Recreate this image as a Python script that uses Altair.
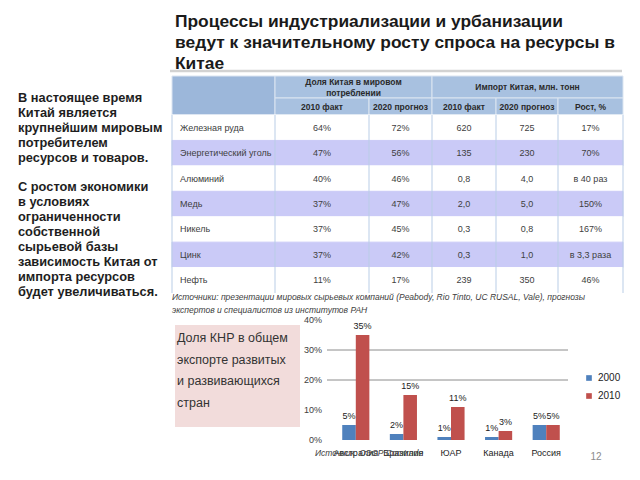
import altair as alt
import numpy as np
import pandas as pd

FONT = "Liberation Sans"

# ---------------- texts ----------------
title_lines = [
    "Процессы индустриализации и урбанизации",
    "ведут к значительному росту спроса на ресурсы в",
    "Китае",
]
left_par_1 = ["В настоящее время", "Китай является", "крупнейшим мировым",
              "потребителем", "ресурсов и товаров."]
left_par_2 = ["С ростом экономики", "в условиях", "ограниченности", "собственной",
              "сырьевой базы", "зависимость Китая от", "импорта ресурсов",
              "будет увеличиваться."]
box_lines = ["Доля КНР в общем", "экспорте развитых", "и развивающихся", "стран"]
source_lines = [
    "Источники: презентации мировых сырьевых компаний (Peabody, Rio Tinto, UC RUSAL, Vale), прогнозы",
    "экспертов и специалистов из институтов РАН",
]
chart_source = "Источник: ОЭСР Comtrade"
page_number = "12"

# ---------------- table data ----------------
group_header_1 = ["Доля Китая в мировом", "потреблении"]
group_header_2 = "Импорт Китая, млн. тонн"
sub_headers = ["2010 факт", "2020 прогноз", "2010 факт", "2020 прогноз", "Рост, %"]
resources = ["Железная руда", "Энергетический уголь", "Алюминий", "Медь",
             "Никель", "Цинк", "Нефть"]
share_2010 = ["64%", "47%", "40%", "37%", "37%", "37%", "11%"]
share_2020 = ["72%", "56%", "46%", "47%", "45%", "42%", "17%"]
import_2010 = ["620", "135", "0,8", "2,0", "0,3", "0,3", "239"]
import_2020 = ["725", "230", "4,0", "5,0", "0,8", "1,0", "350"]
growth = ["17%", "70%", "в 40 раз", "150%", "167%", "в 3,3 раза", "46%"]

# ---------------- bar chart data ----------------
countries = ["Австралия", "Бразилия", "ЮАР", "Канада", "Россия"]
years = ["2000", "2010"]
export_2000 = [5, 2, 1, 1, 5]
export_2010 = [35, 15, 11, 3, 5]
y_ticks = [0, 10, 20, 30, 40]
grid_values = [20, 30]
bar_colors = ["#4f81bd", "#c0504d"]

# ---------------- layout ----------------
W, H = 624, 464
col_w = [103, 94, 63, 64, 62, 65]
edges = np.concatenate([[0], np.cumsum(col_w)]).astype(float)
h1, h2 = 22.0, 17.0
row_h = 178.0 / 7
head_h = h1 + h2
tab_h = head_h + row_h * len(resources)
TX = alt.Scale(domain=[0, float(edges[-1])], range=[164, 164 + float(edges[-1])])
TY = alt.Scale(domain=[0, tab_h], range=[68, 68 + tab_h])
LEFT_LH = 14.9


def note(text, x, y, size, lh=None, align="left", baseline="top", **kw):
    props = dict(align=align, baseline=baseline, fontSize=size, font=FONT,
                 lineBreak="\n", **kw)
    if lh:
        props["lineHeight"] = lh
    return alt.Chart(pd.DataFrame({"t": [text]})).mark_text(**props).encode(
        text="t:N", x=alt.value(x), y=alt.value(y))


layers = []

# title + separator
layers.append(note("\n".join(title_lines), 167, 5, 17.4, lh=21,
                   fontWeight="bold", color="#1a1a1a"))
layers.append(alt.Chart(pd.DataFrame({"k": [0]})).mark_rule(
    color="#d2d2d2", strokeWidth=2.5).encode(
    x=alt.value(162), x2=alt.value(614), y=alt.value(63)))

# left text (two paragraphs separated by an empty line)
layers.append(note("\n".join(left_par_1), 10, 84, 12.8, lh=LEFT_LH,
                   fontWeight="bold", color="#1e1e1e"))
layers.append(note("\n".join(left_par_2), 10, 84 + (len(left_par_1) + 1) * LEFT_LH,
                   12.8, lh=LEFT_LH, fontWeight="bold", color="#1e1e1e"))

# ---------------- table ----------------
cells = [dict(x0=0, x1=edges[1], y0=0, y1=head_h, fill="#9cb7da", stroke="#dbe5f1"),
         dict(x0=edges[1], x1=edges[3], y0=0, y1=h1, fill="#a8c1e0", stroke="#dbe5f1"),
         dict(x0=edges[3], x1=edges[6], y0=0, y1=h1, fill="#a8c1e0", stroke="#dbe5f1")]
for j in range(1, 6):
    cells.append(dict(x0=edges[j], x1=edges[j + 1], y0=h1, y1=head_h,
                      fill="#a8c1e0", stroke="#dbe5f1"))
for i in range(len(resources)):
    f = "#ffffff" if i % 2 == 0 else "#cacaf7"
    cells.append(dict(x0=0, x1=edges[-1], y0=head_h + i * row_h,
                      y1=head_h + (i + 1) * row_h, fill=f, stroke=f))
cells_df = pd.DataFrame(cells)

rects = alt.Chart(cells_df).mark_rect(strokeWidth=1).encode(
    x=alt.X("x0:Q", scale=TX, axis=None), x2="x1:Q",
    y=alt.Y("y0:Q", scale=TY, axis=None), y2="y1:Q",
    fill=alt.Fill("fill:N", scale=None), stroke=alt.Stroke("stroke:N", scale=None))

seps_df = pd.DataFrame({"x": edges, "y0": head_h, "y1": tab_h})
seps = alt.Chart(seps_df).mark_rule(color="#b9cde6", strokeWidth=1).encode(
    x=alt.X("x:Q", scale=TX, axis=None),
    y=alt.Y("y0:Q", scale=TY, axis=None), y2="y1:Q")

centers = (edges[:-1] + edges[1:]) / 2
head_rows = [dict(t=group_header_1[0], x=(edges[1] + edges[3]) / 2, y=6.0),
             dict(t=group_header_1[1], x=(edges[1] + edges[3]) / 2, y=16.5),
             dict(t=group_header_2, x=(edges[3] + edges[6]) / 2, y=h1 / 2)]
for j, s in enumerate(sub_headers):
    head_rows.append(dict(t=s, x=centers[j + 1], y=h1 + h2 / 2))
head_txt = alt.Chart(pd.DataFrame(head_rows)).mark_text(
    fontSize=8.5, font=FONT, fontWeight="bold", color="#2a2a2a",
    baseline="middle").encode(
    x=alt.X("x:Q", scale=TX, axis=None), y=alt.Y("y:Q", scale=TY, axis=None),
    text="t:N")

vals = []
for i, r in enumerate(resources):
    cy = head_h + (i + 0.5) * row_h
    for j, col in enumerate([share_2010, share_2020, import_2010, import_2020, growth]):
        vals.append(dict(t=col[i], x=centers[j + 1], y=cy))
val_txt = alt.Chart(pd.DataFrame(vals)).mark_text(
    fontSize=9, font=FONT, color="#404040", baseline="middle").encode(
    x=alt.X("x:Q", scale=TX, axis=None), y=alt.Y("y:Q", scale=TY, axis=None),
    text="t:N")
lab_df = pd.DataFrame({"t": resources, "x": 8.0,
                       "y": [head_h + (i + 0.5) * row_h for i in range(len(resources))]})
lab_txt = alt.Chart(lab_df).mark_text(
    fontSize=9, font=FONT, color="#404040", baseline="middle", align="left").encode(
    x=alt.X("x:Q", scale=TX, axis=None), y=alt.Y("y:Q", scale=TY, axis=None),
    text="t:N")

table = alt.layer(rects, seps, head_txt, val_txt, lab_txt)
layers.append(table)

# source under table
layers.append(note("\n".join(source_lines), 164, 285, 8.5, lh=13,
                   fontStyle="italic", color="#404040"))

# pink box
layers.append(alt.Chart(pd.DataFrame({"k": [0]})).mark_rect(color="#f2dcdb").encode(
    x=alt.value(167), x2=alt.value(292), y=alt.value(317), y2=alt.value(419)))
layers.append(note("\n".join(box_lines), 169, 324, 12.5, lh=21.7, color="#333333"))

# ---------------- bar chart ----------------
bars_df = pd.DataFrame({
    "country": countries * 2,
    "year": [years[0]] * len(countries) + [years[1]] * len(countries),
    "value": export_2000 + export_2010,
})
bars_df["label"] = bars_df["value"].astype(str) + "%"

XS = alt.Scale(domain=countries, range=[324, 562], paddingInner=0.43, paddingOuter=0.215)
YS = alt.Scale(domain=[0, 40], range=[432, 312], nice=False, zero=True)
XO = alt.XOffset("year:N", scale=alt.Scale(domain=years, paddingInner=0, paddingOuter=0))

base = alt.Chart(bars_df).encode(
    x=alt.X("country:N", scale=XS, axis=None, sort=countries),
    xOffset=XO,
    y=alt.Y("value:Q", scale=YS, axis=None))

bars = base.mark_bar().encode(
    color=alt.Color("year:N", scale=alt.Scale(domain=years, range=bar_colors),
                    legend=alt.Legend(orient="none", legendX=576, legendY=365,
                                      title=None, symbolType="square",
                                      symbolSize=32, labelFontSize=10,
                                      labelFont=FONT, labelColor="#222222",
                                      rowPadding=8, padding=0,
                                      symbolStrokeWidth=0)))
vlabels = base.mark_text(baseline="alphabetic", dy=-6, fontSize=9, font=FONT,
                         color="#222222").encode(text="label:N")

grid = alt.Chart(pd.DataFrame({"v": grid_values})).mark_rule(
    color="#8c8c8c", strokeWidth=1).encode(
    y=alt.Y("v:Q", scale=YS, axis=None), x=alt.value(319), x2=alt.value(560))

ylab_df = pd.DataFrame({"v": y_ticks, "lab": [f"{v}%" for v in y_ticks]})
ylabels = alt.Chart(ylab_df).mark_text(
    align="right", baseline="middle", fontSize=9, font=FONT, color="#404040").encode(
    y=alt.Y("v:Q", scale=YS, axis=None), x=alt.value(314), text="lab:N")

catlabels = alt.Chart(pd.DataFrame({"country": countries})).mark_text(
    baseline="alphabetic", fontSize=9, font=FONT, color="#222222").encode(
    x=alt.X("country:N", scale=XS, axis=None, sort=countries),
    y=alt.value(448), text="country:N")

barchart = alt.layer(grid, bars, vlabels, ylabels, catlabels)
layers.append(barchart)

layers.append(note(chart_source, 307, 448, 8.5, baseline="alphabetic",
                   fontStyle="italic", color="#404040"))
layers.append(note(page_number, 588, 449, 10, align="center", baseline="middle",
                   color="#8c8c8c"))

chart = alt.layer(*layers).resolve_scale(
    x="independent", y="independent", color="independent"
).properties(
    width=W, height=H, autosize=alt.AutoSizeParams(type="none"), padding=0,
    background="white"
).configure_view(stroke=None)

chart.save("out.html", embed_options={"renderer": "svg", "actions": False})
